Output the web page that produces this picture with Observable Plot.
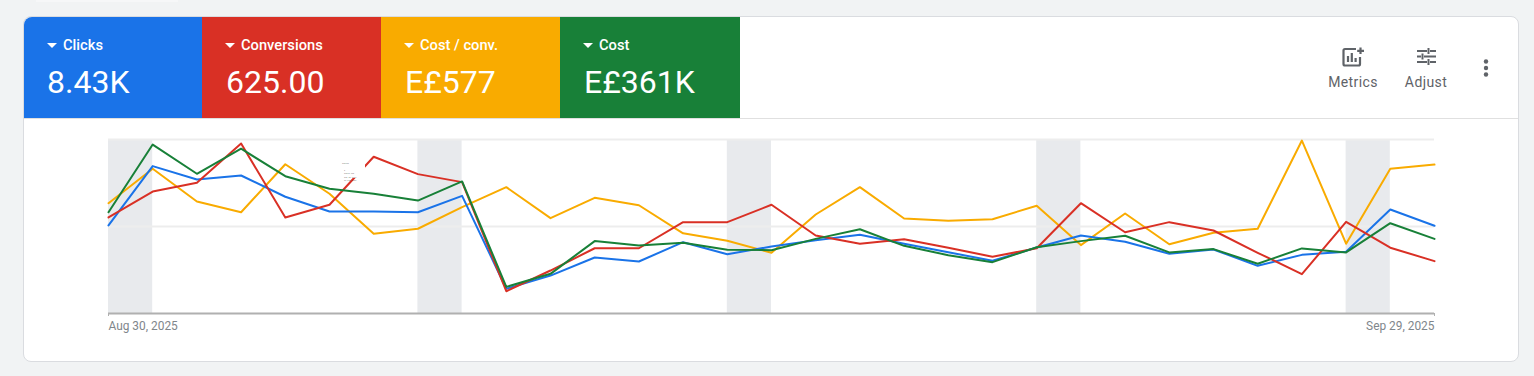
<!DOCTYPE html>
<html><head><meta charset="utf-8">
<script src="https://cdn.jsdelivr.net/npm/d3@7"></script>
<script src="https://cdn.jsdelivr.net/npm/@observablehq/plot@0.6"></script>
<style>
html,body{margin:0;padding:0;background:#f1f3f4;overflow:hidden;width:1534px;height:376px;font-family:Roboto,sans-serif}
#ghost{position:absolute;left:36px;top:0;width:142px;height:2px;background:#f6f7f8}
#card{position:absolute;left:23px;top:16px;width:1496px;height:346px;background:#fff;border:1px solid #dadce0;border-radius:8px;box-sizing:border-box}
#head{position:absolute;left:24px;top:17px;width:1494px;height:102px;border-bottom:1px solid #e0e0e0;box-sizing:border-box}
.tile{position:absolute;top:0;height:101px;color:#fff}
.tile .l{position:absolute;left:23px;top:20px;font-size:14.700px;line-height:17px;font-weight:500;white-space:nowrap}
.tile .l i{display:inline-block;width:0;height:0;border-left:5px solid transparent;border-right:5px solid transparent;border-top:5px solid #fff;margin-right:6px;vertical-align:2px}
.tile .v{position:absolute;left:23px;top:46px;font-size:32px;line-height:38px;white-space:nowrap}
.act{position:absolute;color:#5f6368;font-size:14px;text-align:center;transform:translateX(-50%);letter-spacing:.4px}
.ic{position:absolute}
#chart{position:absolute;left:0;top:120px}
#tip{position:absolute;left:339px;top:160px;width:26px;height:18px;background:#fff;font-size:4px;font-weight:700;line-height:3.400px;color:#222;padding:1px 3px;box-sizing:border-box;white-space:pre}
</style></head><body>
<div id="ghost"></div><div id="card"></div>
<div id="head"></div>
<svg class="ic" style="left:1342px;top:47px" width="23" height="20" viewBox="0 0 23 20" fill="none" stroke="#5f6368" stroke-width="2.200"><path d="M14 2H3A1.500 1.500 0 0 0 1.500 3.500V17A1.500 1.500 0 0 0 3 18.500H16.500A1.500 1.500 0 0 0 18 17V10"/><path d="M6 9V15M9.800 6V15M13.600 11V15M18.500 .5V7M15.200 3.800H22"/></svg>
<svg class="ic" style="left:1417px;top:48px" width="19" height="17" viewBox="0 0 19 17" fill="none" stroke="#5f6368" stroke-width="2"><path d="M0 3H10M13 3H19M11.500 0V6M0 8.500H4M7 8.500H19M5.500 5.500V11.500M0 14H10M13 14H19M11.500 11V17"/></svg>
<svg class="ic" style="left:1482px;top:59px" width="8" height="18" viewBox="0 0 8 18" fill="#5f6368"><circle cx="4" cy="2.500" r="2.200"/><circle cx="4" cy="9" r="2.200"/><circle cx="4" cy="15.500" r="2.200"/></svg>
<div class="act" style="left:1353px;top:74px">Metrics</div>
<div class="act" style="left:1426px;top:74px">Adjust</div>
<div id="chart"></div>
<div id="tip"></div>
<script>
const startDay = new Date(Date.UTC(2025, 7, 30));
const endDay = new Date(Date.UTC(2025, 8, 29));
const days = d3.utcDay.range(startDay, d3.utcDay.offset(endDay, 1));

const metricNames = ["Clicks", "Conversions", "Cost / conv.", "Cost"];
const metricTotals = ["8.43K", "625.00", "E£577", "E£361K"];
const metricColors = ["#1a73e8", "#d93025", "#f9ab00", "#188038"];
const lineColors = ["#1a73e8", "#d93025", "#f9ab00", "#188038"];

const clicks = [50.6,84.7,77.0,79.3,67.1,58.6,58.6,58.2,67.6,14.2,21.8,32.2,29.9,41.0,34.1,38.5,42.1,45.2,40.1,35.2,30.3,37.9,44.8,41.2,34.3,36.8,27.4,33.7,35.5,59.8,50.4];
const conversions = [55.2,70.1,75.1,97.7,55.2,62.5,90.1,80.1,75.5,12.8,24.7,37.5,37.5,52.5,52.5,62.5,44.8,40.1,42.7,37.8,32.6,37.5,63.4,46.7,52.5,47.7,34.9,22.6,52.7,37.8,30.1];
const costPerConv = [63.4,83.2,64.4,58.2,85.8,68.8,45.8,48.7,61.1,72.6,54.8,66.5,62.2,46.1,41.8,34.9,56.9,72.6,54.6,53.3,54.2,61.9,39.3,57.5,39.8,46.4,48.7,99.4,40.1,83.2,85.6];
const cost = [58.2,97.1,80.3,94.7,78.9,71.7,68.8,64.9,75.9,15.3,22.8,41.6,39.1,40.6,36.6,36.4,42.9,48.4,38.9,33.5,29.5,38.1,41.6,44.7,35.1,37.0,28.6,37.4,35.1,51.9,42.9];
const weekendStarts = [0, 7, 14, 21, 28];
const gridValues = [50, 100];
const tipLines = ["......","","  . ","  ..... ...","  ... .. ....","  .. ... ...."];

const tileLefts = [0, 178, 357, 536], tileWidths = [178, 179, 179, 180];
const valueLefts = [23, 24, 24, 24];
const head = document.getElementById("head");
metricNames.forEach((n, i) => {
  const t = document.createElement("div");
  t.className = "tile";
  t.style.cssText = `left:${tileLefts[i]}px;width:${tileWidths[i]}px;background:${metricColors[i]};` + (i === 0 ? "border-top-left-radius:8px;" : "");
  const l = document.createElement("div"); l.className = "l"; l.innerHTML = "<i></i>"; l.append(n);
  const v = document.createElement("div"); v.className = "v"; v.textContent = metricTotals[i];
  v.style.left = valueLefts[i] + "px";
  t.append(l, v); head.append(t);
});
document.getElementById("tip").textContent = tipLines.join("\n");

const series = [clicks, conversions, costPerConv, cost];
const rows = [2, 0, 1, 3].flatMap(s => series[s].map((v, i) => ({day: days[i], v, s})));
const fmt = d3.utcFormat("%b %-d, %Y");

const plot = Plot.plot({
  width: 1534, height: 224,
  marginLeft: 108, marginRight: 100, marginTop: 19, marginBottom: 31,
  x: {type: "utc", domain: [startDay, endDay]},
  y: {domain: [0, 100], axis: null},
  marks: [
    Plot.rectY(weekendStarts, {x1: d => days[d], x2: d => days[d + 1], y1: 0, y2: 100, fill: "#e8eaed"}),
    Plot.ruleY(gridValues, {stroke: "#ededed", strokeWidth: 2}),
    Plot.ruleY([0], {stroke: "#b0b0b0", strokeWidth: 2}),
    Plot.axisX([startDay], {label: null, tickFormat: fmt, textAnchor: "start", tickSize: 3, tickPadding: 5, fontSize: 11.900, fill: "#80868b", stroke: "#b0b0b0", fontFamily: "Roboto"}),
    Plot.axisX([endDay], {label: null, tickFormat: fmt, textAnchor: "end", tickSize: 3, tickPadding: 5, fontSize: 11.900, fill: "#80868b", stroke: "#b0b0b0", fontFamily: "Roboto"}),
    Plot.line(rows, {x: "day", y: "v", z: "s", stroke: d => lineColors[d.s], strokeWidth: 2, curve: "linear"})
  ]
});
plot.style.background = "transparent";
document.getElementById("chart").append(plot);
</script>
</body></html>
